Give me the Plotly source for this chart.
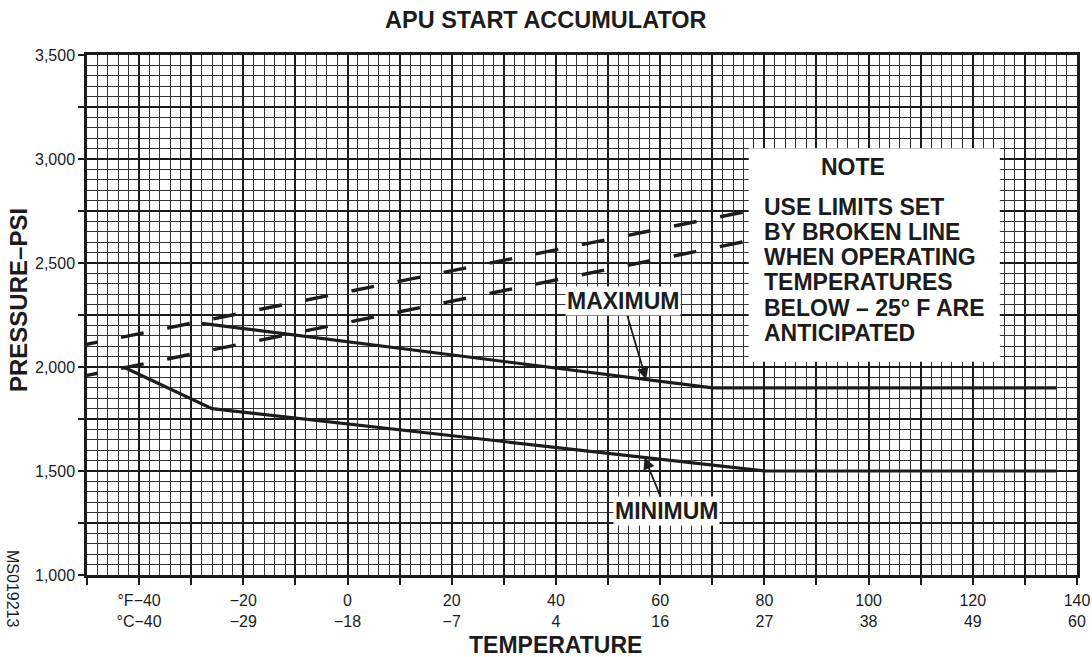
import numpy as np
import plotly.graph_objects as go

# ---------------- data ----------------
temp_ticks = [-50, -40, -30, -20, -10, 0, 10, 20, 30, 40, 50, 60, 70, 80, 90, 100, 110, 120, 130, 140]
temp_labels = {
    -40: "°F−40<br>°C−40", -20: "−20<br>−29", 0: "0<br>−18", 20: "20<br>−7",
    40: "40<br>4", 60: "60<br>16", 80: "80<br>27", 100: "100<br>38",
    120: "120<br>49", 140: "140<br>60",
}
psi_ticks = [1000, 1250, 1500, 1750, 2000, 2250, 2500, 2750, 3000, 3250, 3500]
psi_labels = {1000: "1,000", 1500: "1,500", 2000: "2,000", 2500: "2,500", 3000: "3,000", 3500: "3,500"}

max_temp = [-28, 70, 136]
max_psi = [2210, 1900, 1900]
min_temp = [-43, -26, 80, 136]
min_psi = [2000, 1800, 1500, 1500]
broken_upper_temp = [-52.3, 76]
broken_upper_psi = [2098, 2745]
broken_lower_temp = [-52.3, 76]
broken_lower_psi = [1948, 2602]

note_lines = ["USE LIMITS SET", "BY BROKEN LINE", "WHEN OPERATING",
              "TEMPERATURES", "BELOW – 25° F ARE", "ANTICIPATED"]

FONT = "Liberation Sans, Arial, Helvetica, sans-serif"
INK = "#1c1c1c"

# plot-area geometry (pixels)
L, R, T, B = 87, 1077, 55, 575
W, H = R - L, B - T
px = lambda x: (x - L) / W
py = lambda y: (B - y) / H

fig = go.Figure()
line_style = dict(color=INK, width=3.2)
fig.add_trace(go.Scatter(x=broken_upper_temp, y=broken_upper_psi, mode="lines",
                         line=dict(color=INK, width=3.4, dash="23px,24px"), hoverinfo="skip"))
fig.add_trace(go.Scatter(x=broken_lower_temp, y=broken_lower_psi, mode="lines",
                         line=dict(color=INK, width=3.4, dash="23px,24px"), hoverinfo="skip"))
fig.add_trace(go.Scatter(x=max_temp, y=max_psi, mode="lines", line=line_style, hoverinfo="skip"))
fig.add_trace(go.Scatter(x=min_temp, y=min_psi, mode="lines", line=line_style, hoverinfo="skip"))

# note box
fig.add_shape(type="rect", xref="x", yref="y", x0=77, x1=125.2, y0=2025, y1=3052,
              fillcolor="white", line=dict(width=0), layer="above")

bold = lambda s: f"<b>{s}</b>"
fig.add_annotation(x=97.1, y=2961, xref="x", yref="y", text=bold("NOTE"), showarrow=False,
                   font=dict(family=FONT, size=23, color=INK), xanchor="center", yanchor="middle")
note_y = [2769, 2649, 2529, 2409, 2284, 2163]
for txt, yy in zip(note_lines, note_y):
    fig.add_annotation(x=79.6, y=yy, xref="x", yref="y", text=bold(txt), showarrow=False,
                       font=dict(family=FONT, size=23, color=INK), xanchor="left", yanchor="middle")

# labels with arrows
mx = 57.3
fig.add_annotation(x=mx, y=float(np.interp(mx, max_temp, max_psi)), xref="x", yref="y",
                   text=bold("MAXIMUM"), showarrow=True, ax=-23, ay=-78,
                   arrowhead=2, arrowsize=1.3, arrowwidth=1.8, arrowcolor=INK,
                   bgcolor="white", font=dict(family=FONT, size=23, color=INK))
mn = 57.0
fig.add_annotation(x=mn, y=float(np.interp(mn, min_temp, min_psi)), xref="x", yref="y",
                   text=bold("MINIMUM"), showarrow=True, ax=22, ay=54,
                   arrowhead=2, arrowsize=1.3, arrowwidth=1.8, arrowcolor=INK,
                   bgcolor="white", font=dict(family=FONT, size=23, color=INK))

# titles
common = dict(xref="paper", yref="paper", showarrow=False, xanchor="center", yanchor="middle")
fig.add_annotation(x=px(546), y=py(20), text=bold("APU START ACCUMULATOR"),
                   font=dict(family=FONT, size=23.5, color=INK), **common)
fig.add_annotation(x=px(555), y=py(645), text=bold("TEMPERATURE"),
                   font=dict(family=FONT, size=23, color=INK), **common)
fig.add_annotation(x=px(18), y=py(300), text=bold("PRESSURE–PSI"), textangle=-90,
                   font=dict(family=FONT, size=24, color=INK), **common)
fig.add_annotation(x=px(13), y=py(588), text="MS019213", textangle=90,
                   font=dict(family=FONT, size=16, color=INK), **common)

fig.update_xaxes(range=[-50, 140], tickmode="array", tickvals=temp_ticks,
                 ticktext=[temp_labels.get(t, "") for t in temp_ticks],
                 ticks="outside", ticklen=7, tickwidth=1.5, tickcolor=INK,
                 showgrid=True, gridcolor=INK, gridwidth=2.2, zeroline=False,
                 showline=True, linecolor=INK, linewidth=2.5, mirror=True, automargin=False,
                 tickfont=dict(family=FONT, size=16, color=INK), ticklabelstandoff=2,
                 minor=dict(tickmode="linear", tick0=-50, dtick=2, showgrid=True,
                            gridcolor="#333333", gridwidth=1.3, ticks=""))
fig.update_yaxes(range=[1000, 3500], tickmode="array", tickvals=psi_ticks,
                 ticktext=[psi_labels.get(t, "") for t in psi_ticks],
                 ticks="outside", ticklen=6, tickwidth=1.5, tickcolor=INK,
                 showgrid=True, gridcolor=INK, gridwidth=2.2, zeroline=False,
                 showline=True, linecolor=INK, linewidth=2.5, mirror=True, automargin=False,
                 tickfont=dict(family=FONT, size=16, color=INK), ticklabelstandoff=0,
                 minor=dict(tickmode="linear", tick0=1000, dtick=50, showgrid=True,
                            gridcolor="#333333", gridwidth=1.3, ticks=""))

fig.update_layout(width=1092, height=657, margin=dict(l=L, r=1092 - R, t=T, b=657 - B, autoexpand=False),
                  paper_bgcolor="white", plot_bgcolor="white", showlegend=False,
                  font=dict(family=FONT, color=INK))
fig.write_html("out.html", config={"displayModeBar": False},
               post_script="document.body.style.margin='0';")
